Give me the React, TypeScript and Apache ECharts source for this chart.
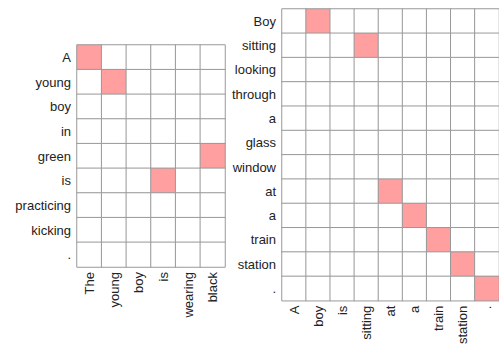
import React, { useEffect, useRef } from "react";
import * as echarts from "echarts";

const leftRows = ["A", "young", "boy", "in", "green", "is", "practicing", "kicking", "."];
const leftCols = ["The", "young", "boy", "is", "wearing", "black"];
const leftMatrix = [
  [1, 0, 0, 0, 0, 0],
  [0, 1, 0, 0, 0, 0],
  [0, 0, 0, 0, 0, 0],
  [0, 0, 0, 0, 0, 0],
  [0, 0, 0, 0, 0, 1],
  [0, 0, 0, 1, 0, 0],
  [0, 0, 0, 0, 0, 0],
  [0, 0, 0, 0, 0, 0],
  [0, 0, 0, 0, 0, 0],
];

const rightRows = ["Boy", "sitting", "looking", "through", "a", "glass", "window", "at", "a", "train", "station", "."];
const rightCols = ["A", "boy", "is", "sitting", "at", "a", "train", "station", "."];
const rightMatrix = [
  [0, 1, 0, 0, 0, 0, 0, 0, 0],
  [0, 0, 0, 1, 0, 0, 0, 0, 0],
  [0, 0, 0, 0, 0, 0, 0, 0, 0],
  [0, 0, 0, 0, 0, 0, 0, 0, 0],
  [0, 0, 0, 0, 0, 0, 0, 0, 0],
  [0, 0, 0, 0, 0, 0, 0, 0, 0],
  [0, 0, 0, 0, 0, 0, 0, 0, 0],
  [0, 0, 0, 0, 1, 0, 0, 0, 0],
  [0, 0, 0, 0, 0, 1, 0, 0, 0],
  [0, 0, 0, 0, 0, 0, 1, 0, 0],
  [0, 0, 0, 0, 0, 0, 0, 1, 0],
  [0, 0, 0, 0, 0, 0, 0, 0, 1],
];

const toData = (m: number[][]) => {
  const out: number[][] = [];
  m.forEach((row, y) => row.forEach((v, x) => out.push([x, y, v])));
  return out;
};

const FONT = "'Liberation Sans', Arial, sans-serif";

export default function App() {
  const ref = useRef<HTMLDivElement>(null);
  useEffect(() => {
    if (!ref.current) return;
    const chart = echarts.init(ref.current, undefined, { renderer: "svg" });
    const label = { fontSize: 13, color: "#222", fontFamily: FONT };
    const xAxisBase = (idx: number, data: string[]) => ({
      type: "category" as const,
      gridIndex: idx,
      data,
      axisLine: { show: false },
      axisTick: { show: false },
      splitLine: { show: false },
      axisLabel: { ...label, rotate: 90, margin: 5, interval: 0 },
    });
    const yAxisBase = (idx: number, data: string[]) => ({
      type: "category" as const,
      gridIndex: idx,
      data,
      inverse: true,
      axisLine: { show: false },
      axisTick: { show: false },
      splitLine: { show: false },
      axisLabel: { ...label, margin: 6, interval: 0 },
    });
    chart.setOption({
      animation: false,
      backgroundColor: "#ffffff",
      grid: [
        { left: 77, top: 45, width: 148, height: 222 },
        { left: 282, top: 9, width: 222, height: 296 },
      ],
      xAxis: [xAxisBase(0, leftCols), xAxisBase(1, rightCols)],
      yAxis: [yAxisBase(0, leftRows), yAxisBase(1, rightRows)],
      visualMap: {
        show: false,
        type: "piecewise",
        seriesIndex: [0, 1],
        dimension: 2,
        pieces: [
          { value: 0, color: "#ffffff" },
          { value: 1, color: "#ff9f9f" },
        ],
      },
      series: [
        {
          type: "heatmap",
          xAxisIndex: 0,
          yAxisIndex: 0,
          data: toData(leftMatrix),
          itemStyle: { borderColor: "#999999", borderWidth: 1 },
          emphasis: { disabled: true },
        },
        {
          type: "heatmap",
          xAxisIndex: 1,
          yAxisIndex: 1,
          data: toData(rightMatrix),
          itemStyle: { borderColor: "#999999", borderWidth: 1 },
          emphasis: { disabled: true },
        },
      ],
    });
    return () => chart.dispose();
  }, []);
  return (
    <div
      ref={ref}
      style={{ position: "absolute", left: 0, top: 0, width: 499, height: 347 }}
    />
  );
}
